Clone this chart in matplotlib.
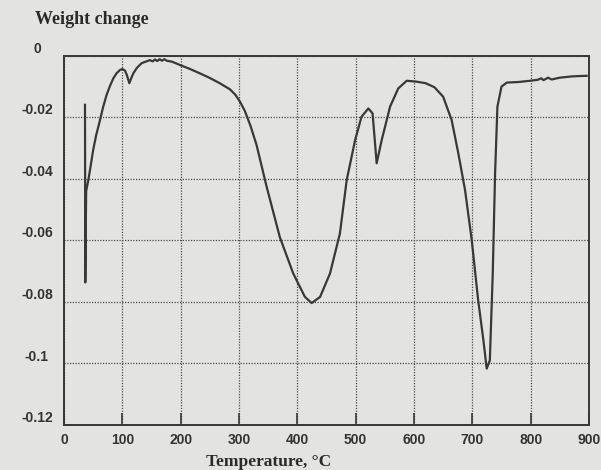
import matplotlib
matplotlib.use("Agg")
import matplotlib.pyplot as plt
from matplotlib.transforms import ScaledTranslation

temperature = [36, 36.5, 38, 41.7, 46, 50, 55, 61.7, 67, 73, 79, 84.6, 90, 96, 100,
               104.6, 108, 112, 115, 118.8, 125, 133, 140, 147, 152, 156, 160, 164,
               168, 172, 176, 185, 199, 215, 233, 250, 267, 284.6, 294, 301.7, 310,
               320, 330, 347.5, 370, 393, 413, 424.6, 439, 456, 473, 484.6, 499, 510,
               521.7, 529, 536, 544.6, 559, 573, 587.5, 604.6, 620, 635, 650, 664.6,
               676, 687.5, 699, 710, 719, 724.6, 730, 735, 739, 743, 750, 759, 780,
               799, 812, 818, 822, 830, 836, 845, 850, 860, 870, 880, 896]
weight = [-0.0160, -0.0737, -0.0440, -0.0405, -0.0355, -0.0307, -0.0260, -0.0210,
          -0.0168, -0.0128, -0.0098, -0.0074, -0.0058, -0.0047, -0.0044,
          -0.0049, -0.0065, -0.0090, -0.0075, -0.0058, -0.0040, -0.0025,
          -0.0020, -0.0015, -0.0019, -0.0013, -0.0018, -0.0012, -0.0017, -0.0012,
          -0.0017, -0.0020, -0.0031, -0.0043, -0.0058, -0.0073, -0.0090, -0.0110,
          -0.0128, -0.0150, -0.0180, -0.0230, -0.0290, -0.0427, -0.0590, -0.0708,
          -0.0784, -0.0804, -0.0784, -0.0708, -0.0578, -0.0405, -0.0275, -0.0199,
          -0.0172, -0.0188, -0.0350, -0.0275, -0.0166, -0.0107, -0.0082, -0.0085,
          -0.0090, -0.0103, -0.0134, -0.0210, -0.0318, -0.0437, -0.0600, -0.0795,
          -0.0925, -0.1017, -0.0990, -0.0708, -0.0383, -0.0166, -0.0101, -0.0088,
          -0.0086, -0.0082, -0.0079, -0.0074, -0.0080, -0.0072, -0.0078, -0.0074,
          -0.0072, -0.0070, -0.0068, -0.0067, -0.0066]

x_ticks = [0, 100, 200, 300, 400, 500, 600, 700, 800, 900]
y_ticks = [0, -0.02, -0.04, -0.06, -0.08, -0.1, -0.12]
y_tick_labels = ["0", "-0.02", "-0.04", "-0.06", "-0.08", "-0.1", "-0.12"]

bg = "#e3e3e1"
ink = "#383838"

fig = plt.figure(figsize=(6.01, 4.70), dpi=100, facecolor=bg)
ax = fig.add_axes([64/601, 1-425/470, (589-64)/601, (425-55.5)/470])
ax.set_facecolor(bg)

ax.plot(temperature, weight, color=ink, lw=1.6, solid_joinstyle="round")

ax.set_xlim(0, 900)
ax.set_ylim(-0.12, 0)
ax.set_xticks(x_ticks)
ax.set_xticklabels([str(t) for t in x_ticks], fontsize=10, family="Liberation Sans",
                   weight="bold", color="#333333")
ax.set_yticks(y_ticks)
ax.set_yticklabels(y_tick_labels, fontsize=10, family="Liberation Sans", weight="bold",
                   color="#333333", ha="center")

ax.grid(True, linestyle=(0, (1, 1.2)), color="#4a4a4a", lw=0.9)
ax.tick_params(axis="x", direction="in", length=9, width=1.2, color=ink, pad=6)
ax.tick_params(axis="y", length=0, pad=19.5)
for s in ax.spines.values():
    s.set_color(ink)
    s.set_linewidth(1.4)

offset = ScaledTranslation(0, 6/72, fig.dpi_scale_trans)
for lab in ax.get_yticklabels():
    lab.set_transform(lab.get_transform() + offset)

fig.text(35/601, 1-20/470, "Weight change", family="Liberation Serif", weight="bold",
         fontsize=13, color="#2a2a2a", ha="left", va="center")
fig.text(269/601, 1-462/470, "Temperature, \u00b0C", family="Liberation Serif",
         weight="bold", fontsize=12.5, color="#2a2a2a", ha="center", va="center")

fig.savefig("out.png", dpi=100, facecolor=bg)
